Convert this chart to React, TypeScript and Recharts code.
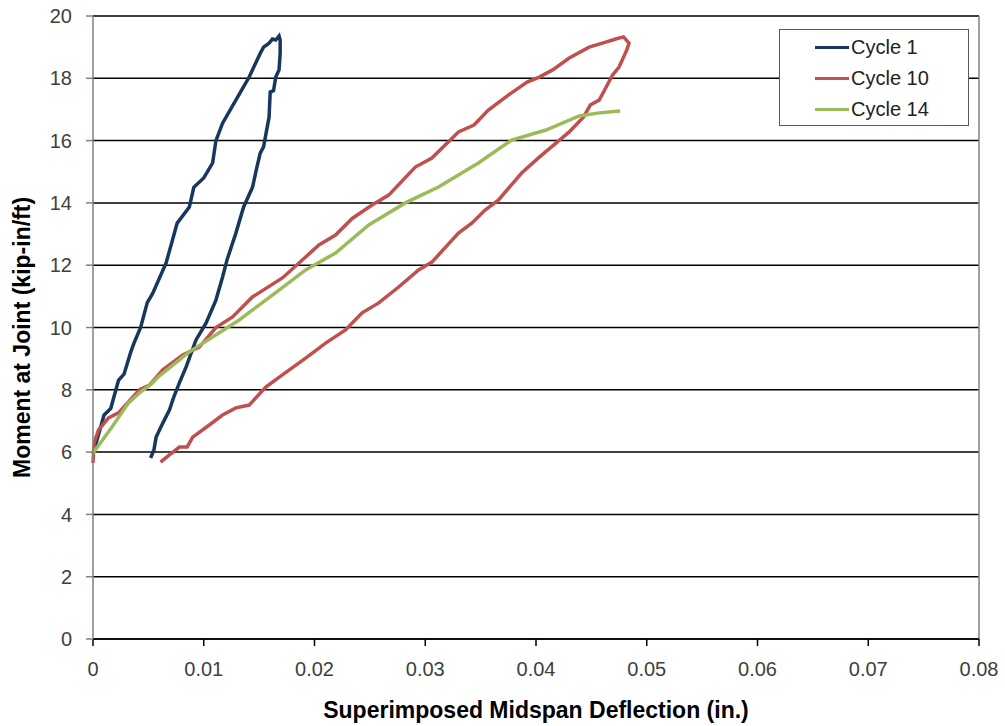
import { LineChart, Line, XAxis, YAxis, CartesianGrid, Legend, ReferenceLine } from 'recharts';

// deflection (in.) / moment (kip-in/ft) pairs, in the order they were recorded
const cycle1X = [
  0.0, 0.0001, 0.001, 0.0016, 0.0023, 0.0028, 0.0034, 0.0037, 0.0043, 0.0049, 0.0054, 0.0066, 0.0076,
  0.0087, 0.0091, 0.01, 0.0108, 0.0111, 0.0117, 0.0129, 0.0141, 0.0147, 0.0151, 0.0154, 0.0159, 0.0162,
  0.0165, 0.0168, 0.0169, 0.0169, 0.0168, 0.0165, 0.0163, 0.016, 0.0159, 0.0154, 0.0151, 0.0148, 0.0144,
  0.0136, 0.0129, 0.0121, 0.0117, 0.0111, 0.0102, 0.0093, 0.0084, 0.0078, 0.0073, 0.0069, 0.0063, 0.006,
  0.0057, 0.0055, 0.0052,
];
const cycle1Y = [
  5.95, 6.07, 7.19, 7.4, 8.3, 8.5, 9.2, 9.5, 10.0, 10.8, 11.1, 12.07, 13.35,
  13.87, 14.5, 14.8, 15.28, 16.0, 16.56, 17.3, 18.04, 18.5, 18.8, 19.0, 19.13, 19.26,
  19.23, 19.36, 19.23, 18.8, 18.27, 18.04, 17.6, 17.56, 16.76, 15.8, 15.6, 15.15, 14.5,
  13.87, 13.03, 12.17, 11.62, 10.88, 10.14, 9.6, 8.73, 8.22, 7.77, 7.35, 6.93, 6.71,
  6.48, 6.07, 5.81,
];

const cycle10X = [
  0.0, 0.0001, 0.0005, 0.0014, 0.0023, 0.0042, 0.0051, 0.0063, 0.0081, 0.0096, 0.0111, 0.0126, 0.0144,
  0.0171, 0.0186, 0.0204, 0.0219, 0.0234, 0.0252, 0.0267, 0.0291, 0.0306, 0.033, 0.0344, 0.0357, 0.0375,
  0.0392, 0.0403, 0.0415, 0.043, 0.0448, 0.0463, 0.0472, 0.0479, 0.0484, 0.0482, 0.0475, 0.0469, 0.0461,
  0.0457, 0.0449, 0.0443, 0.043, 0.0418, 0.0403, 0.0387, 0.0366, 0.0354, 0.0342, 0.033, 0.0306, 0.0294,
  0.0276, 0.0258, 0.0243, 0.0228, 0.021, 0.0192, 0.0171, 0.0156, 0.0141, 0.0129, 0.0117, 0.0105, 0.009,
  0.0085, 0.0078, 0.0069, 0.0061,
];
const cycle10Y = [
  5.65, 6.3, 6.71, 7.1, 7.26, 8.0, 8.15, 8.64, 9.12, 9.37, 10.0, 10.34, 10.98,
  11.59, 12.07, 12.65, 12.97, 13.5, 13.93, 14.25, 15.15, 15.44, 16.28, 16.5, 16.98, 17.46,
  17.88, 18.04, 18.27, 18.65, 19.0, 19.16, 19.26, 19.33, 19.13, 18.91, 18.36, 18.1, 17.56,
  17.3, 17.14, 16.76, 16.28, 15.92, 15.47, 14.96, 14.09, 13.77, 13.35, 13.03, 12.1, 11.85,
  11.3, 10.79, 10.47, 9.92, 9.5, 9.02, 8.48, 8.09, 7.51, 7.42, 7.19, 6.87, 6.48,
  6.16, 6.16, 5.91, 5.68,
];

const cycle14X = [
  0.0, 0.0017, 0.0032, 0.0042, 0.0053, 0.006, 0.0078, 0.0087, 0.0132, 0.0168, 0.0192, 0.0219, 0.0249,
  0.0282, 0.0312, 0.0348, 0.0378, 0.0409, 0.0439, 0.0457, 0.0476,
];
const cycle14Y = [
  5.97, 6.8, 7.58, 7.9, 8.2, 8.45, 8.96, 9.22, 10.24, 11.2, 11.85, 12.39, 13.29,
  14.0, 14.51, 15.28, 16.02, 16.34, 16.79, 16.89, 16.95,
];

const xTicks = [0, 0.01, 0.02, 0.03, 0.04, 0.05, 0.06, 0.07, 0.08];
const yTicks = [0, 2, 4, 6, 8, 10, 12, 14, 16, 18, 20];

const toPoints = (xs: number[], ys: number[]) => xs.map((x, i) => ({ x, y: ys[i] }));

const SERIES = [
  { name: 'Cycle 1', color: '#17375e', data: toPoints(cycle1X, cycle1Y) },
  { name: 'Cycle 10', color: '#c0504d', data: toPoints(cycle10X, cycle10Y) },
  { name: 'Cycle 14', color: '#9bbb59', data: toPoints(cycle14X, cycle14Y) },
];

const FONT = '"Liberation Sans", Arial, sans-serif';
const TICK = { fill: '#404040', fontSize: 20, fontFamily: FONT };

function LegendBox() {
  return (
    <div
      style={{
        border: '1.5px solid #595959',
        background: '#fff',
        width: 190,
        height: 97,
        boxSizing: 'border-box',
        padding: '2px 0 0 35px',
        fontFamily: FONT,
        fontSize: 20,
        color: '#222',
        textAlign: 'left',
      }}
    >
      {SERIES.map((s) => (
        <div key={s.name} style={{ display: 'flex', alignItems: 'center', height: 31 }}>
          <div style={{ width: 34, height: 3, background: s.color, marginRight: 2 }} />
          <span>{s.name}</span>
        </div>
      ))}
    </div>
  );
}

export default function App() {
  return (
    <div style={{ position: 'absolute', top: 0, left: 0, background: '#fff' }}>
      <LineChart width={1005} height={726} margin={{ top: 16, right: 26, bottom: 0, left: 0 }}>
        <CartesianGrid vertical={false} stroke="#000" strokeWidth={1.5} />
        <XAxis
          type="number"
          dataKey="x"
          domain={[0, 0.08]}
          ticks={xTicks}
          tickFormatter={(v: number) => (v === 0 ? '0' : v.toFixed(2))}
          tick={TICK}
          tickSize={7}
          tickMargin={16}
          stroke="#000"
          strokeWidth={1.5}
          height={87}
          label={{
            value: 'Superimposed Midspan Deflection (in.)',
            position: 'insideBottom',
            offset: 8,
            style: { fill: '#000', fontSize: 23, fontWeight: 'bold', fontFamily: FONT },
          }}
        />
        <YAxis
          type="number"
          dataKey="y"
          domain={[0, 20]}
          ticks={yTicks}
          tick={TICK}
          tickSize={7}
          tickMargin={14}
          stroke="#808080"
          strokeWidth={1.5}
          width={93}
          label={{
            value: 'Moment at Joint (kip-in/ft)',
            angle: -90,
            position: 'insideLeft',
            offset: 22,
            dy: 10,
            style: { fill: '#000', fontSize: 23, fontWeight: 'bold', fontFamily: FONT, textAnchor: 'middle' },
          }}
        />
        <ReferenceLine x={0.08} stroke="#808080" strokeWidth={1.5} />
        <Legend
          layout="horizontal"
          verticalAlign="middle"
          align="center"
          content={() => <LegendBox />}
          wrapperStyle={{ top: 29, left: 779, width: 190, height: 97 }}
        />
        {SERIES.map((s) => (
          <Line
            key={s.name}
            name={s.name}
            data={s.data}
            dataKey="y"
            stroke={s.color}
            strokeWidth={3.5}
            dot={false}
            type="linear"
            isAnimationActive={false}
          />
        ))}
      </LineChart>
    </div>
  );
}
